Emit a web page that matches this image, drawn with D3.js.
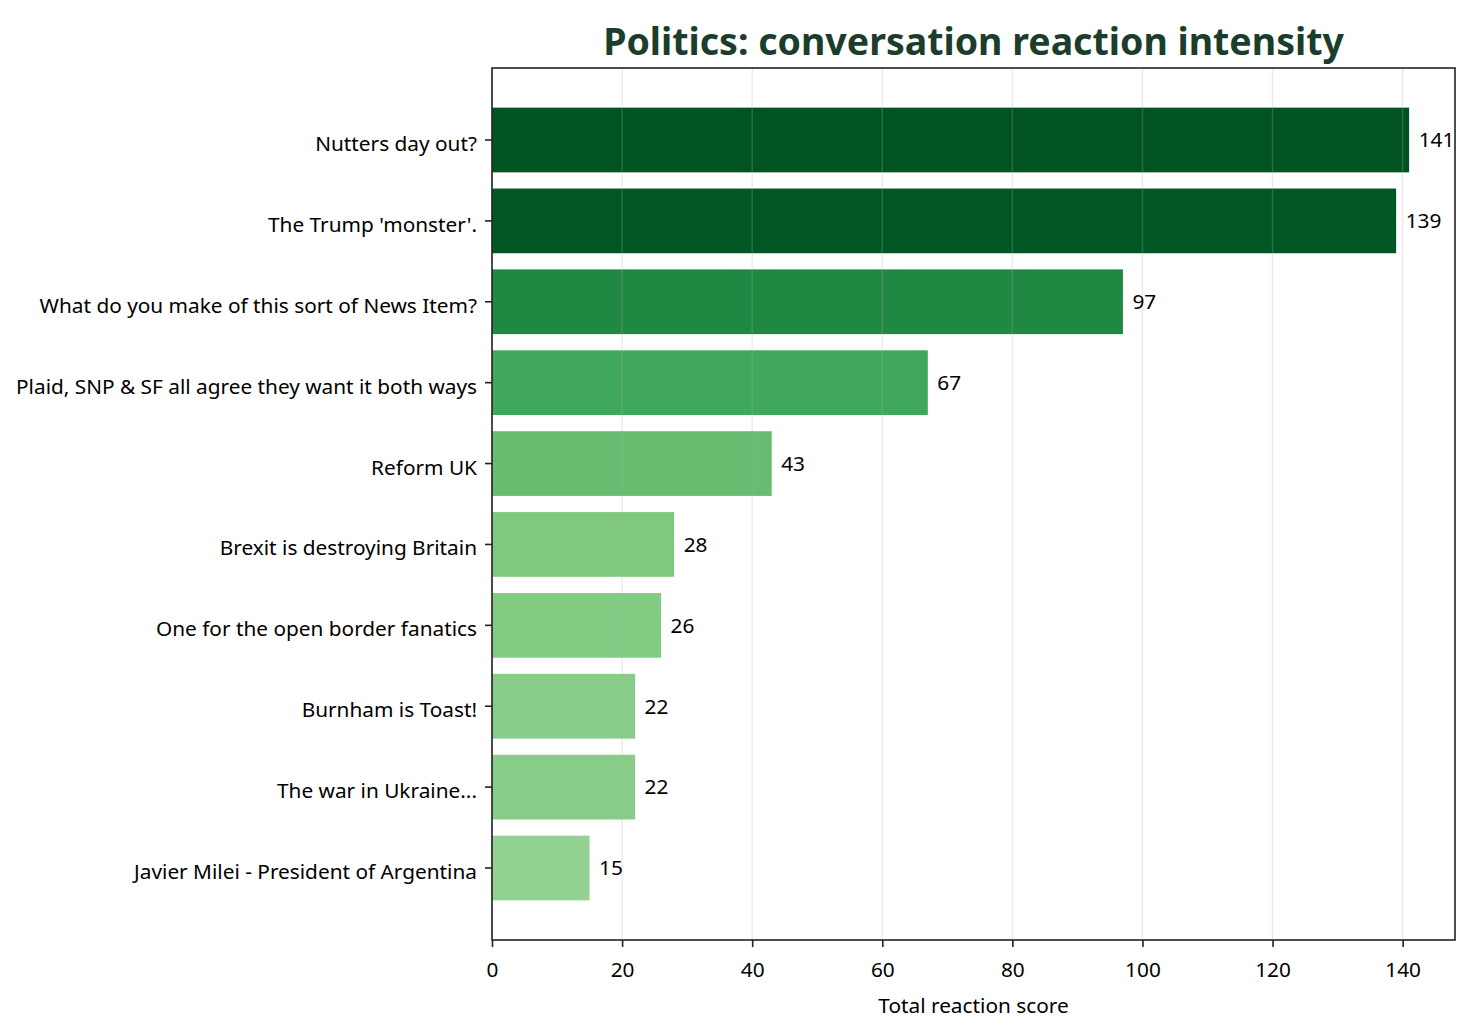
<!DOCTYPE html>
<html>
<head>
<meta charset="utf-8">
<script src="https://cdn.jsdelivr.net/npm/d3@7"></script>
<style>
  body { margin: 0; background: #fff; }
  text { font-family: "Noto Sans", sans-serif; }
</style>
</head>
<body>
<script>
const width = 1469;
const height = 1035;
const margin = {top: 68, right: 14, bottom: 95, left: 492};
const fontSize = "20.8px";

// data
const topics = [
    "Nutters day out?",
    "The Trump 'monster'.",
    "What do you make of this sort of News Item?",
    "Plaid, SNP & SF all agree they want it both ways",
    "Reform UK",
    "Brexit is destroying Britain",
    "One for the open border fanatics",
    "Burnham is Toast!",
    "The war in Ukraine...",
    "Javier Milei - President of Argentina"
];
const scores = [141, 139, 97, 67, 43, 28, 26, 22, 22, 15];
const xTicks = [0, 20, 40, 60, 80, 100, 120, 140];

const data = topics.map((t, i) => ({topic: t, score: scores[i]}));

// matplotlib-like "Greens" (linear between the 9 brewer stops)
const greens = ["#f7fcf5", "#e5f5e0", "#c7e9c0", "#a1d99b", "#74c476",
                "#41ab5d", "#238b45", "#006d2c", "#00441b"];
const greensScale = d3.scaleLinear()
    .domain(d3.range(9).map(i => i / 8))
    .range(greens)
    .interpolate(d3.interpolateRgb);
const maxScore = d3.max(scores);
const color = v => greensScale(0.35 + 0.6 * v / maxScore);

const svg = d3.select('body').append('svg')
    .attr("width", width)
    .attr("height", height)
    .attr("viewBox", `0 0 ${width} ${height}`);

const x = d3.scaleLinear()
    .domain([0, maxScore * 1.05])
    .range([margin.left, width - margin.right]);

const y = d3.scaleBand()
    .domain(topics)
    .range([margin.top, height - margin.bottom])
    .paddingInner(0.2)
    .paddingOuter(0.49);

// bars
svg.append("g")
    .selectAll("rect")
    .data(data)
    .enter()
    .append("rect")
    .attr("x", x(0))
    .attr("y", d => y(d.topic))
    .attr("width", d => x(d.score) - x(0))
    .attr("height", y.bandwidth())
    .style("fill", d => color(d.score));

// grid over the bars
svg.append("g")
    .selectAll("line")
    .data(xTicks)
    .enter()
    .append("line")
    .attr("x1", d => x(d))
    .attr("x2", d => x(d))
    .attr("y1", margin.top)
    .attr("y2", height - margin.bottom)
    .style("stroke", "#b0b0b0")
    .style("stroke-opacity", 0.25)
    .style("stroke-width", 1.5);

// value labels
svg.append("g")
    .selectAll("text")
    .data(data)
    .enter()
    .append("text")
    .attr("x", d => x(d.score) + 9.5)
    .attr("y", d => y(d.topic) + y.bandwidth() / 2)
    .attr("dy", "0.35em")
    .style("font-size", fontSize)
    .style("fill", "#000")
    .text(d => d.score);

// axes
const xAxis = svg.append("g")
    .attr("transform", `translate(0,${height - margin.bottom})`)
    .call(d3.axisBottom(x).tickValues(xTicks).tickSize(7).tickSizeOuter(0));
xAxis.selectAll(".tick text").attr("dy", "0.71em").attr("y", 22);

const yAxis = svg.append("g")
    .attr("transform", `translate(${margin.left},0)`)
    .call(d3.axisLeft(y).tickSize(7).tickPadding(8).tickSizeOuter(0));
yAxis.selectAll(".tick text").attr("dy", "0.53em");

[xAxis, yAxis].forEach(ax => {
    ax.select(".domain").remove();
    ax.selectAll(".tick line").style("stroke", "#222").style("stroke-width", 1.6);
    ax.selectAll(".tick text")
        .style("font-family", "'Noto Sans', sans-serif")
        .style("font-size", fontSize)
        .style("fill", "#000");
});

// frame
svg.append("rect")
    .attr("x", margin.left)
    .attr("y", margin.top)
    .attr("width", width - margin.left - margin.right)
    .attr("height", height - margin.top - margin.bottom)
    .style("fill", "none")
    .style("stroke", "#222")
    .style("stroke-width", 1.6);

// title and axis label
const cx = (margin.left + width - margin.right) / 2;
svg.append("text")
    .attr("x", cx)
    .attr("y", 55)
    .attr("text-anchor", "middle")
    .style("font-size", "37.5px")
    .style("font-weight", "bold")
    .style("fill", "#1b3d2b")
    .text("Politics: conversation reaction intensity");

svg.append("text")
    .attr("x", cx)
    .attr("y", 1013)
    .attr("text-anchor", "middle")
    .style("font-size", fontSize)
    .style("fill", "#000")
    .text("Total reaction score");
</script>
</body>
</html>
